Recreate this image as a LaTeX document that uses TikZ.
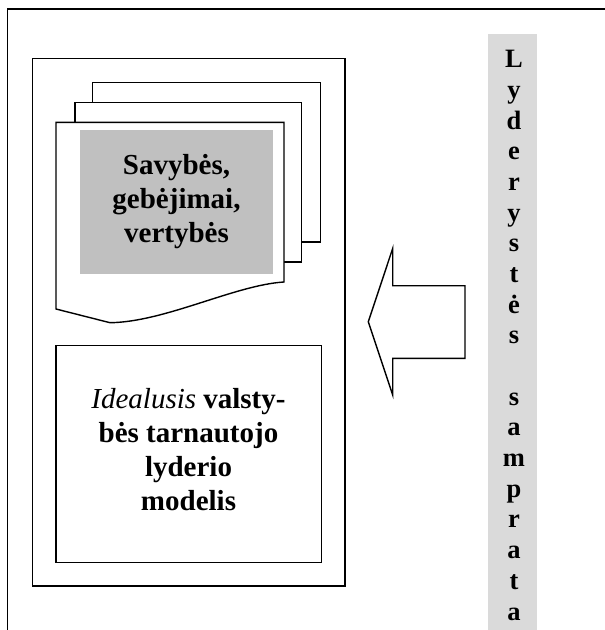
\documentclass[tikz,border=0pt]{standalone}
\usepackage{fontspec}
\setmainfont{Liberation Serif}
\begin{document}
\begin{tikzpicture}[x=1pt,y=-1pt,
  frame/.style={draw=black,line width=1.6pt},
  box/.style={draw=black,line width=1.4pt},
  bigtext/.style={font=\fontsize{29}{34}\selectfont\bfseries,align=center,inner sep=0pt},
  vtext/.style={font=\fontsize{26.5}{30.67}\selectfont\bfseries,align=center,inner sep=0pt}]
\useasboundingbox (0,0) rectangle (605,630);
% outer frame (open at right and bottom)
\draw[frame] (7.3,630) -- (7.3,9) -- (605,9);
% inner left box
\draw[box] (32.3,58.3) rectangle (345,586);
% stacked pages
\draw[box,fill=white] (92.7,82.3) rectangle (320.7,242);
\draw[box,fill=white] (75,102.3) rectangle (301.7,262);
\draw[box,fill=white] (56,122.3) -- (284,122.3) -- (284,282)
   .. controls (235,285) and (165,322) .. (110,322.7) -- (56,309) -- cycle;
\fill[fill={rgb,255:red,192;green,192;blue,192}] (80,130) rectangle (273,274);
\node[bigtext,anchor=base] (sav) at (176.5,242) {Savybės,\\gebėjimai,\\vertybės};
% ideal model box
\draw[box] (56,345.7) rectangle (321.7,562.3);
\node[bigtext,anchor=base] (ideal) at (188.5,510.3)
  {{\mdseries\itshape Idealusis} valsty-\\bės tarnautojo\\lyderio\\modelis};
% arrow
\draw[box,line join=miter] (368.3,321.7) -- (392.7,248.4) -- (392.7,285.7) -- (465,285.7)
  -- (465,358.3) -- (392.7,358.3) -- (392.7,395) -- cycle;
% vertical band
\fill[fill={rgb,255:red,218;green,218;blue,218}] (488.3,34) rectangle (536.7,630);
\node[vtext,anchor=base] (lyd) at (514,620)
  {L\\y\\d\\e\\r\\y\\s\\t\\ė\\s\\\mbox{}\\s\\a\\m\\p\\r\\a\\t\\a};
\end{tikzpicture}
\end{document}
